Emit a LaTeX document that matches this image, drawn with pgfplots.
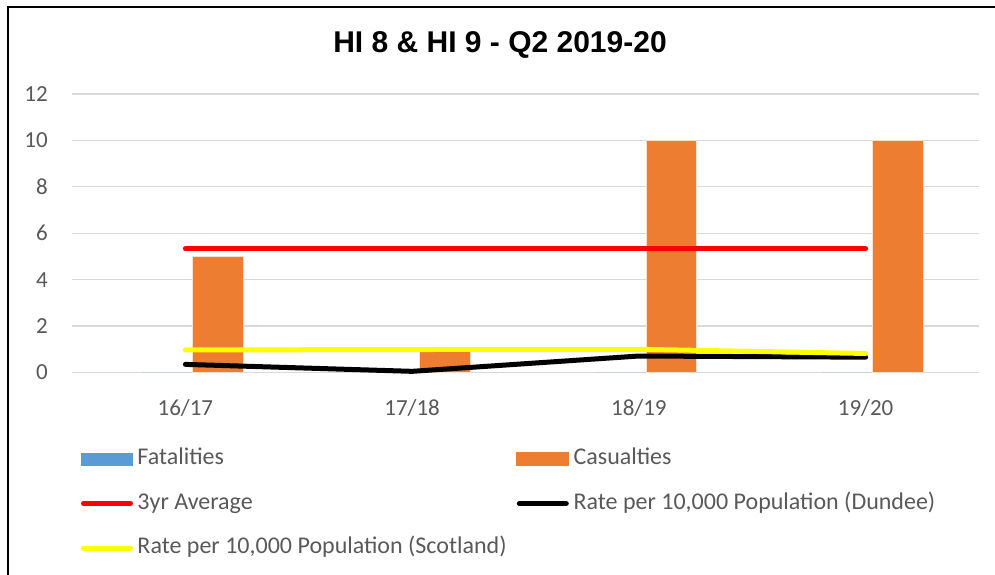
\documentclass[border=0pt]{standalone}
\usepackage{fontspec}
\setmainfont{Carlito}
\newfontfamily\titlefont{Liberation Sans}
\usepackage{pgfplots}
\pgfplotsset{compat=1.18}
\definecolor{cfat}{HTML}{5B9BD5}
\definecolor{ccas}{HTML}{ED7D31}
\definecolor{cgrid}{HTML}{D9D9D9}
\definecolor{ctxt}{HTML}{595959}
\definecolor{cyel}{HTML}{FFFF00}
\definecolor{cred}{HTML}{FF0000}
\pgfplotsset{
  linelegend/.style={legend image code/.code={\draw[##1] (2.5pt,0pt) -- (49.5pt,0pt);}},
  fatlegend/.style={legend image code/.code={\fill[cfat] (0pt,-6.5pt) rectangle (52pt,6.5pt);}},
  caslegend/.style={legend image code/.code={\fill[ccas] (0pt,-6.5pt) rectangle (52pt,6.5pt);}},
}
\begin{document}
\begin{tikzpicture}[x=1pt,y=1pt]
\useasboundingbox (0,0) rectangle (995,575);
\fill[white] (0,0) rectangle (995,575);
\draw[black, line width=2pt] (7.5,-5) -- (7.5,567.5) -- (1000,567.5);
\node[font=\titlefont\bfseries\fontsize{30}{35}\selectfont] at (500,530) {HI 8 \& HI 9 - Q2 2019-20};
\begin{axis}[
  at={(72pt,202.5pt)}, anchor=south west,
  width=907pt, height=278.5pt, scale only axis,
  xmin=-0.5, xmax=3.5, ymin=0, ymax=12,
  xtick={0,1,2,3}, xticklabels={16/17,17/18,18/19,19/20},
  ytick={0,2,...,12},
  ymajorgrids, grid style={cgrid, line width=1.3pt},
  axis line style={draw=none}, major tick length=0pt,
  tick label style={font=\fontsize{23}{27}\selectfont, text=ctxt},
  /pgf/number format/assume math mode=true,
  yticklabel style={inner sep=0pt, anchor=east, xshift=-24pt},
  xticklabel style={inner sep=0pt, anchor=center, yshift=-35.5pt},
  clip=false,
  legend columns=2,
  legend cell align=left,
  legend style={at={(axis description cs:0.0099,-0.2693)}, anchor=north west,
    draw=none, fill=none, inner sep=0pt, outer sep=0pt,
    font=\fontsize{24}{28}\selectfont, text=ctxt, row sep=21.5pt,
    nodes={inner sep=0pt, text height=17pt, text depth=6pt},
    /tikz/every odd column/.append style={column sep=4.5pt}},
]
\addplot[ybar, bar width=0.223, bar shift=-0.08, fill=cfat, draw=none, fatlegend]
  coordinates {(0,0) (1,0) (2,0) (3,0)};
\addlegendentry{\makebox[379pt][l]{Fatalities}}
\addplot[ybar, bar width=0.223, bar shift=0.143, fill=ccas, draw=white!75!ccas, line width=0.6pt, caslegend]
  coordinates {(0,5) (1,1) (2,10) (3,10)};
\addlegendentry{Casualties}
\addplot[cred, line width=5pt, line cap=round, line join=round, linelegend]
  coordinates {(0,5.33) (1,5.33) (2,5.33) (3,5.33)};
\addlegendentry{\makebox[379pt][l]{3yr Average}}
\addplot[black, line width=5pt, line cap=round, line join=round, linelegend]
  coordinates {(0,0.35) (1,0.05) (2,0.71) (3,0.66)};
\addlegendentry{Rate per 10,000 Population (Dundee)}
\addplot[cyel, line width=5pt, line cap=round, line join=round, linelegend]
  coordinates {(0,0.97) (1,0.99) (2,1.0) (3,0.82)};
\addlegendentry{\makebox[379pt][l]{Rate per 10,000 Population (Scotland)}}
\end{axis}
\end{tikzpicture}
\end{document}
